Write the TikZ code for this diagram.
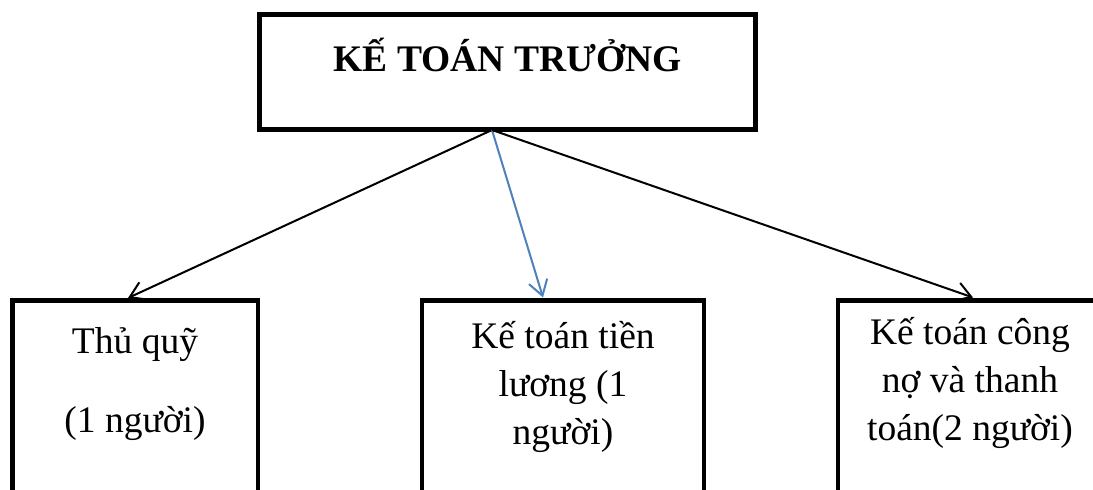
\documentclass[tikz,border=0pt]{standalone}
\usepackage{fontspec}
\setmainfont{Liberation Serif}
\usetikzlibrary{arrows.meta,calc}
\definecolor{linkblue}{RGB}{79,129,189}
\begin{document}
\begin{tikzpicture}[x=1pt,y=-1pt,
  headbox/.style={draw, line width=5pt, minimum width=496pt, minimum height=115pt,
    inner sep=0pt, font=\fontsize{37.5}{44}\selectfont\bfseries,
    text height=26pt, text depth=28pt},
  colbox/.style={draw=none, anchor=north, minimum height=220pt, inner sep=0pt, outer sep=0pt},
  colline/.style={line width=4.5pt, line cap=butt, line join=miter},
  coltext/.style={anchor=base, align=center, inner sep=0pt,
    font=\fontsize{37.5}{48}\selectfont},
  link/.style={line width=2pt, -{Straight Barb[length=15pt,width=19pt]}},
]
\clip (0,0) rectangle (1093,490);
\fill[white] (0,0) rectangle (1093,490);

% head of the department
\node[headbox] (ktt) at (507.5,72) {KẾ TOÁN TRƯỞNG};

% three sections, open at the bottom
\node[colbox, minimum width=245.5pt] (b1) at (135.25,300.5) {};
\node[colbox, minimum width=282pt]   (b2) at (563,300.5) {};
\node[colbox, minimum width=264pt]   (b3) at (970,300.5) {};

\foreach \b in {b1,b2,b3}
  \draw[colline] (\b.south west) -- (\b.north west) -- (\b.north east) -- (\b.south east);

% text anchored at the baseline of its last line
\node[coltext] (t1) at (135,432) {Thủ quỹ\\[31pt](1 người)};
\node[coltext] (t2) at (563,444) {Kế toán tiền\\lương (1\\người)};
\node[coltext] (t3) at (970,440) {Kế toán công\\nợ và thanh\\toán(2 người)};

% reporting lines
\coordinate (apex) at ($(ktt.south)+(-15.5,-2)$);
\draw[link] (apex) -- ($(b1.north)+(-7.25,-2.5)$);
\draw[link, linkblue] (apex) -- ($(b2.north)+(-20,-3)$);
\draw[link] (apex) -- ($(b3.north)+(3,-3)$);
\end{tikzpicture}
\end{document}
